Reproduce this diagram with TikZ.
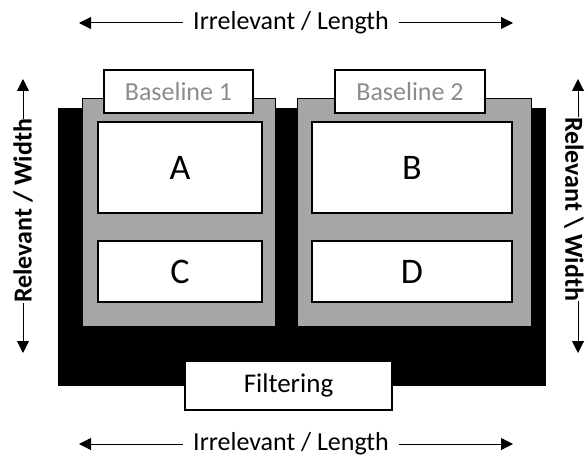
\documentclass[tikz,border=0pt]{standalone}
\usepackage{fontspec}
\setmainfont{Carlito}
\usetikzlibrary{arrows.meta}
\definecolor{panelgray}{HTML}{A6A6A6}
\definecolor{labelgray}{HTML}{8C8C8C}
\begin{document}
\begin{tikzpicture}[x=1pt,y=-1pt,
  txt/.style={font=\fontsize{26}{30}\selectfont},
  bigtxt/.style={font=\fontsize{36}{40}\selectfont},
  boldtxt/.style={font=\bfseries\fontsize{26}{30}\selectfont, inner sep=0pt},
  wbox/.style={draw=black, line width=1.5pt, fill=white, inner sep=0pt},
  panel/.style={draw=black, line width=1pt, fill=panelgray, inner sep=0pt},
  arr/.style={-{Triangle[length=12pt,width=12pt]}, line width=1pt}]
\useasboundingbox (0,0) rectangle (585,457);
% black base
\fill[black] (58,108) rectangle (546,386);
% gray panels
\node[panel, minimum width=193pt, minimum height=227pt] (g1) at (178.5,212.5) {};
\node[panel, minimum width=234pt, minimum height=227pt] (g2) at (414,212.5) {};
% baseline tabs
\node[wbox, txt, text=labelgray, minimum width=149pt, minimum height=43pt] (bl1) at (178.5,91.5) {Baseline 1};
\node[wbox, txt, text=labelgray, minimum width=150pt, minimum height=43pt] (bl2) at (410,91.5) {Baseline 2};
% inner boxes
\node[wbox, bigtxt, minimum width=164pt, minimum height=91pt] (A) at (180,167.5) {A};
\node[wbox, bigtxt, minimum width=200pt, minimum height=91pt] (B) at (412,167.5) {B};
\node[wbox, bigtxt, minimum width=164pt, minimum height=61pt] (C) at (180,271.5) {C};
\node[wbox, bigtxt, minimum width=200pt, minimum height=61pt] (D) at (412,271.5) {D};
% filtering
\node[wbox, font=\fontsize{27}{31}\selectfont, minimum width=207pt, minimum height=49pt] (F) at (288.5,385.5) {Filtering};
% top arrow
\node[txt, inner xsep=10pt] (top) at (291,23) {Irrelevant / Length};
\coordinate (tl) at (79,23);
\coordinate (tr) at (513,23);
\draw[arr] (top.west) -- (tl);
\draw[arr] (top.east) -- (tr);
% bottom arrow
\node[txt, inner xsep=10pt] (bot) at (291,444) {Irrelevant / Length};
\coordinate (bl) at (79,444);
\coordinate (br) at (513,444);
\draw[arr] (bot.west) -- (bl);
\draw[arr] (bot.east) -- (br);
% left vertical
\node[boldtxt, rotate=90] (lv) at (23,211) {Relevant / Width};
\coordinate (lt) at (23,79);
\coordinate (lb) at (23,353);
\draw[arr] (lv.east) -- (lt);
\draw[arr] (lv.west) -- (lb);
% right vertical
\node[boldtxt, rotate=-90] (rv) at (574,209) {Relevant \textbackslash{} Width};
\coordinate (rt) at (578,79);
\coordinate (rb) at (578,353);
\draw[arr] (rv.west -| rt) -- (rt);
\draw[arr] (rv.east -| rb) -- (rb);
\end{tikzpicture}
\end{document}
